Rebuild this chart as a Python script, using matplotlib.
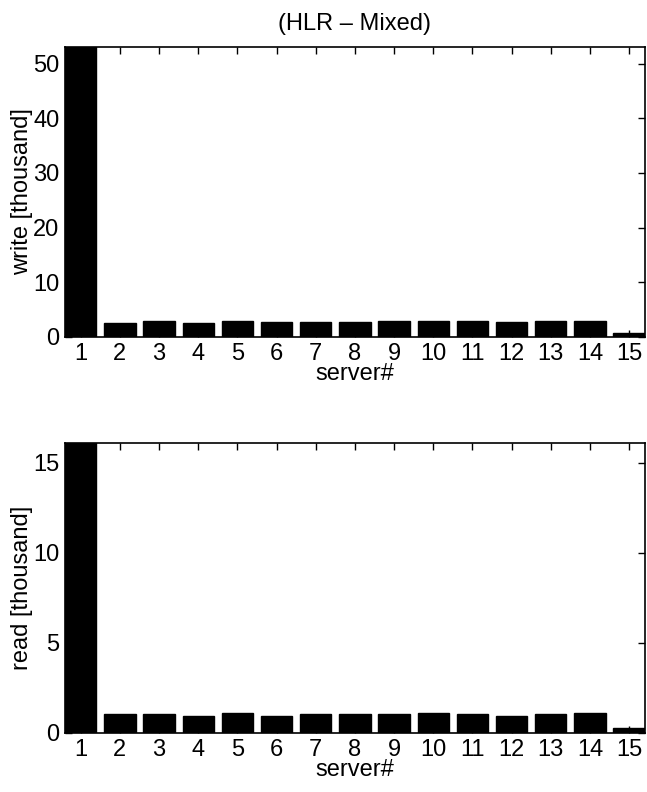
import numpy as np
from matplotlib import pyplot as plt

plt.rcParams['font.family'] = ['Liberation Sans', 'DejaVu Sans']

#%% DATA
servers = np.arange(1, 16)
write_k = [60.0, 2.65, 3.0, 2.55, 2.9, 2.75, 2.75, 2.75, 2.9, 3.0, 3.0, 2.75, 2.9, 3.0, 0.75]
read_k = [18.0, 1.05, 1.08, 0.97, 1.1, 0.97, 1.05, 1.05, 1.05, 1.1, 1.07, 0.95, 1.03, 1.1, 0.3]
write_ticks = [0, 10, 20, 30, 40, 50]
read_ticks = [0, 5, 10, 15]

#%% PLOT
fig = plt.figure(figsize=(6.47, 7.92), dpi=100)
ax1 = fig.add_axes([0.1005, 0.5745, 0.896, 0.366])
ax2 = fig.add_axes([0.1005, 0.0745, 0.896, 0.366])

def panel(ax, vals, ticks, top, ylab):
    ax.bar(servers, vals, width=0.8, color='black', edgecolor='black')
    ax.set_xlim(0.6, 15.4)
    ax.set_ylim(0, top)
    ax.set_xticks(servers)
    ax.set_yticks(ticks)
    ax.tick_params(direction='in', top=True, right=True, labelsize=17,
                   length=5, width=1, pad=4)
    ax.set_xlabel('server#', fontsize=17, labelpad=-1)
    ax.set_ylabel(ylab, fontsize=17, labelpad=0)
    for s in ax.spines.values():
        s.set_linewidth(1.2)

panel(ax1, write_k, write_ticks, 53, 'write [thousand]')
panel(ax2, read_k, read_ticks, 16.1, 'read [thousand]')
ax1.set_title('(HLR \u2013 Mixed)', fontsize=17, pad=12)

fig.savefig('out.png', dpi=100)
